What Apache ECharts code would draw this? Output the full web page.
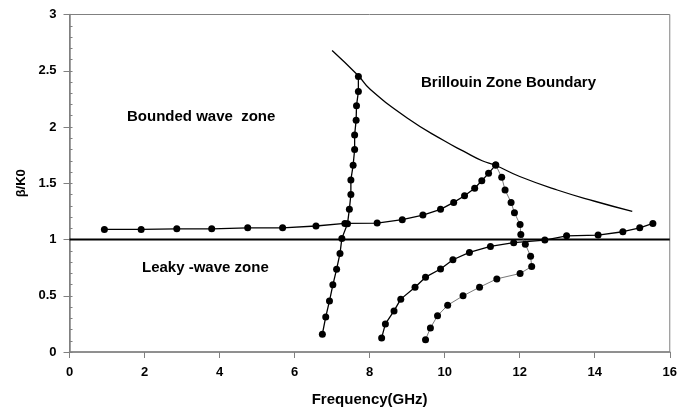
<!DOCTYPE html>
<html><head><meta charset="utf-8">
<script src="https://cdn.jsdelivr.net/npm/echarts@6/dist/echarts.min.js"></script>
<style>html,body{margin:0;padding:0;background:#fff}#c{width:680px;height:413px}</style>
</head><body><div id="c"></div>
<script>
// Steep curve (bounded-wave branch)
const steepX = [6.74,6.83,6.93,7.02,7.12,7.21,7.26,7.41,7.46,7.50,7.50,7.56,7.60,7.60,7.64,7.65,7.70,7.70];
const steepY = [0.158,0.312,0.454,0.597,0.736,0.876,1.01,1.14,1.27,1.40,1.53,1.66,1.80,1.93,2.06,2.19,2.315,2.449];
// Flat curve rising to Brillouin boundary
const flatX = [0.93,1.91,2.86,3.79,4.75,5.68,6.57,7.34,8.20,8.87,9.42,9.89,10.24,10.53,10.80,10.99,11.17,11.36];
const flatY = [1.09,1.09,1.095,1.095,1.104,1.104,1.12,1.143,1.146,1.176,1.217,1.268,1.33,1.389,1.455,1.523,1.588,1.663];
// Thin curve descending from the boundary and folding back
const foldX = [11.36,11.52,11.61,11.77,11.86,12.01,12.03,12.15,12.29,12.32,12.01,11.39,10.93,10.49,10.08,9.81,9.62,9.49];
const foldY = [1.663,1.553,1.44,1.33,1.238,1.133,1.045,0.958,0.852,0.76,0.698,0.65,0.576,0.499,0.416,0.322,0.214,0.11];
// Lower rising curve crossing into the bounded zone
const riseX = [8.32,8.42,8.65,8.83,9.21,9.49,9.89,10.22,10.66,11.22,11.84,12.67,13.25,14.09,14.75,15.20,15.55];
const riseY = [0.125,0.25,0.365,0.47,0.576,0.665,0.738,0.82,0.885,0.938,0.972,0.995,1.033,1.039,1.069,1.104,1.143];
// Brillouin zone boundary
const bzX = [7.0,7.7,8,9,10,10.5,11,11.35,12,13,14,15];
const bzY = [2.68,2.455,2.34,2.08,1.875,1.785,1.70,1.66,1.56,1.44,1.34,1.25];
// Light line beta/K0 = 1
const lightX = [0,16];
const lightY = [1,1];

const xTicks = [0,2,4,6,8,10,12,14,16];
const yTicks = [0,0.5,1,1.5,2,2.5,3];

const zip = (a,b)=>a.map((v,i)=>[v,b[i]]);
const font = 'Liberation Sans, Arial, sans-serif';

const chart = echarts.init(document.getElementById('c'));
chart.setOption({
  animation:false,
  backgroundColor:'#fff',
  grid:{left:69.5,right:8,top:14.5,bottom:61,show:true,borderColor:'#808080',borderWidth:1},
  xAxis:{type:'value',min:xTicks[0],max:xTicks[xTicks.length-1],interval:2,
    name:'Frequency(GHz)',nameLocation:'middle',nameGap:40,
    nameTextStyle:{fontFamily:font,fontWeight:'bold',fontSize:15,color:'#000'},
    axisLine:{lineStyle:{color:'#808080',width:1.5}},
    axisTick:{length:6,lineStyle:{color:'#808080'}},
    axisLabel:{fontFamily:font,fontWeight:'bold',fontSize:13,color:'#000',margin:14},
    splitLine:{show:false}},
  yAxis:[{type:'value',min:yTicks[0],max:yTicks[yTicks.length-1],interval:0.5,
    name:'β/K0',nameLocation:'middle',nameGap:41,
    nameTextStyle:{fontFamily:font,fontWeight:'bold',fontSize:13,color:'#000'},
    axisLine:{lineStyle:{color:'#808080',width:1.5}},
    axisTick:{length:6,lineStyle:{color:'#808080'}},
    axisLabel:{fontFamily:font,fontWeight:'bold',fontSize:13,color:'#000',margin:13},
    splitLine:{show:false}},
   {type:'value',min:0,max:3,interval:0.1,position:'left',
    axisLine:{show:false},axisLabel:{show:false},
    axisTick:{inside:true,length:3,lineStyle:{color:'#808080'}},
    splitLine:{show:false}}],
  graphic:[
    {type:'text',left:127,top:109,style:{text:'Bounded wave  zone',font:'bold 15px '+font,fill:'#000'}},
    {type:'text',left:421,top:75,style:{text:'Brillouin Zone Boundary',font:'bold 15px '+font,fill:'#000'}},
    {type:'text',left:142,top:260,style:{text:'Leaky -wave zone',font:'bold 15px '+font,fill:'#000'}}
  ],
  series:[
    {type:'line',data:zip(lightX,lightY),symbol:'none',lineStyle:{color:'#000',width:2}},
    {type:'line',data:zip(bzX,bzY),symbol:'none',smooth:true,lineStyle:{color:'#000',width:1.3}},
    {type:'line',data:zip(flatX,flatY),symbol:'circle',symbolSize:7,itemStyle:{color:'#000'},lineStyle:{color:'#000',width:1.3}},
    {type:'line',data:zip(steepX,steepY),symbol:'circle',symbolSize:7,itemStyle:{color:'#000'},lineStyle:{color:'#000',width:1.3}},
    {type:'line',data:zip(foldX,foldY),symbol:'circle',symbolSize:7,itemStyle:{color:'#000'},lineStyle:{color:'#555',width:0.8}},
    {type:'line',data:zip(riseX,riseY),symbol:'circle',symbolSize:7,itemStyle:{color:'#000'},lineStyle:{color:'#000',width:1.3}}
  ]
});
</script></body></html>
